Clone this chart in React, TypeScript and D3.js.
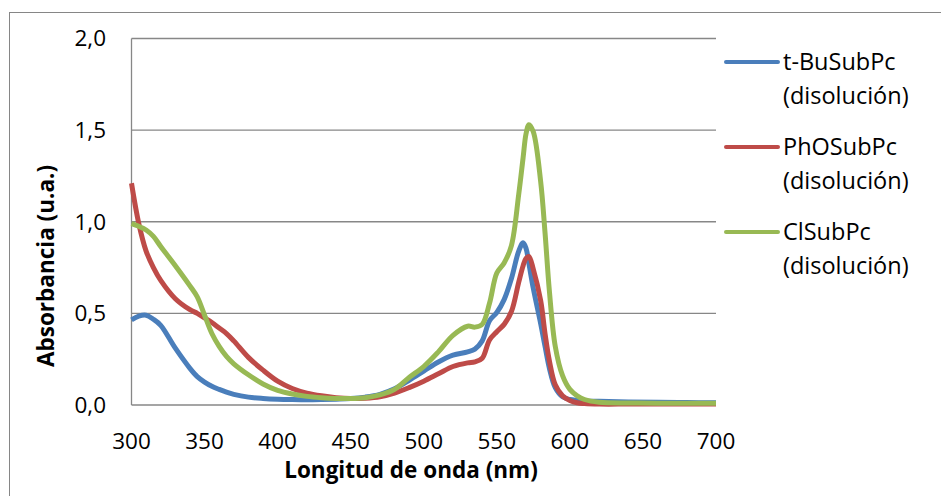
import React from 'react'
import * as d3 from 'd3'

// wavelengths (nm) shared by the three spectra
const wavelengths = [
  300, 305, 310, 315, 320, 330, 340, 345, 350, 355, 360, 365, 370, 380, 390, 400,
  410, 420, 430, 440, 450, 460, 470, 480, 490, 500, 510, 520, 530, 535, 540, 545,
  550, 555, 560, 565, 568, 570, 572, 575, 580, 583, 586, 590, 595, 600, 605, 610,
  620, 640, 660, 680, 700,
]

const tBuSubPc = [
  0.465, 0.485, 0.49, 0.468, 0.435, 0.31, 0.2, 0.155, 0.125, 0.102, 0.085, 0.07, 0.058, 0.043, 0.036, 0.032,
  0.03, 0.029, 0.03, 0.032, 0.035, 0.043, 0.058, 0.088, 0.135, 0.185, 0.235, 0.272, 0.29, 0.305, 0.35, 0.46,
  0.505, 0.575, 0.69, 0.84, 0.885, 0.855, 0.77, 0.635, 0.445, 0.32, 0.2, 0.095, 0.045, 0.03, 0.025, 0.022,
  0.02, 0.017, 0.015, 0.013, 0.012,
]

const phOSubPc = [
  1.21, 0.99, 0.84, 0.75, 0.68, 0.58, 0.52, 0.5, 0.475, 0.45, 0.42, 0.39, 0.35, 0.26, 0.19, 0.13,
  0.09, 0.065, 0.05, 0.04, 0.035, 0.037, 0.045, 0.065, 0.095, 0.13, 0.17, 0.21, 0.23, 0.235, 0.255, 0.355,
  0.4, 0.44, 0.51, 0.67, 0.76, 0.8, 0.81, 0.74, 0.57, 0.39, 0.24, 0.11, 0.05, 0.025, 0.012, 0.008,
  0.005, 0.005, 0.005, 0.005, 0.005,
]

const clSubPc = [
  0.99, 0.975, 0.955, 0.92, 0.865, 0.76, 0.65, 0.59, 0.49, 0.39, 0.32, 0.265, 0.225, 0.165, 0.115, 0.08,
  0.06, 0.047, 0.04, 0.036, 0.035, 0.04, 0.055, 0.085, 0.15, 0.21, 0.29, 0.38, 0.43, 0.425, 0.44, 0.555,
  0.72, 0.775, 0.87, 1.15, 1.35, 1.48, 1.53, 1.49, 1.22, 0.94, 0.62, 0.32, 0.16, 0.085, 0.05, 0.03,
  0.015, 0.011, 0.01, 0.01, 0.01,
]

const seriesNames = ['t-BuSubPc', 'PhOSubPc', 'ClSubPc']
const seriesColors = ['#4A7EBB', '#BE4B48', '#98B954']
const xTicks = [300, 350, 400, 450, 500, 550, 600, 650, 700]
const yTicks = [0, 0.5, 1, 1.5, 2]

const W = 941
const H = 496
const font = "'Open Sans', sans-serif"

const App = () => {
  const x = d3.scaleLinear().domain([300, 700]).range([131.5, 716])
  const y = d3.scaleLinear().domain([0, 2]).range([405, 38.5])

  const line = d3
    .line<number>()
    .x((_, i) => x(wavelengths[i]))
    .y((d) => y(d))
    .curve(d3.curveCatmullRom.alpha(0.5))

  const series = [tBuSubPc, phOSubPc, clSubPc]
  const fmt = (v: number) => v.toFixed(1).replace('.', ',')

  return (
    <svg
      width={W}
      height={H}
      style={{ position: 'absolute', left: 0, top: 0, background: '#fff' }}
    >
      <rect x={9.5} y={12.5} width={1000} height={1000} fill='#fff' stroke='#868686' />

      {yTicks.map((t) => (
        <g key={t}>
          <line x1={131.5} x2={716} y1={y(t)} y2={y(t)} stroke='#878787' strokeWidth={1.3} />
          <text
            x={106}
            y={y(t)}
            dy='0.35em'
            textAnchor='end'
            fontFamily={font}
            fontSize={22.5}
            fill='#000'
          >
            {fmt(t)}
          </text>
        </g>
      ))}
      <line x1={131.5} x2={131.5} y1={y(2)} y2={y(0)} stroke='#878787' strokeWidth={1.3} />

      {xTicks.map((t) => (
        <text
          key={t}
          x={x(t)}
          y={441}
          dy='0.35em'
          textAnchor='middle'
          fontFamily={font}
          fontSize={22.5}
          fill='#000'
        >
          {t}
        </text>
      ))}

      {series.map((s, i) => (
        <path
          key={seriesNames[i]}
          d={line(s) || ''}
          fill='none'
          stroke={seriesColors[i]}
          strokeWidth={5}
          strokeLinejoin='round'
        />
      ))}

      <text
        x={411}
        y={470}
        dy='0.35em'
        textAnchor='middle'
        fontFamily={font}
        fontSize={22.5}
        fontWeight='bold'
      >
        Longitud de onda (nm)
      </text>
      <text
        transform='translate(46,266) rotate(-90)'
        dy='0.35em'
        textAnchor='middle'
        fontFamily={font}
        fontSize={22.5}
        fontWeight='bold'
      >
        Absorbancia (u.a.)
      </text>

      {seriesNames.map((n, i) => (
        <g key={n} transform={`translate(0,${62 + i * 85})`}>
          <line x1={726} x2={778} y1={0} y2={0} stroke={seriesColors[i]} strokeWidth={4} strokeLinecap='round' />
          <text x={783} y={0} dy='0.35em' fontFamily={font} fontSize={23.5}>
            {n}
          </text>
          <text x={783} y={34} dy='0.35em' fontFamily={font} fontSize={23.5}>
            (disolución)
          </text>
        </g>
      ))}
    </svg>
  )
}

export default App
